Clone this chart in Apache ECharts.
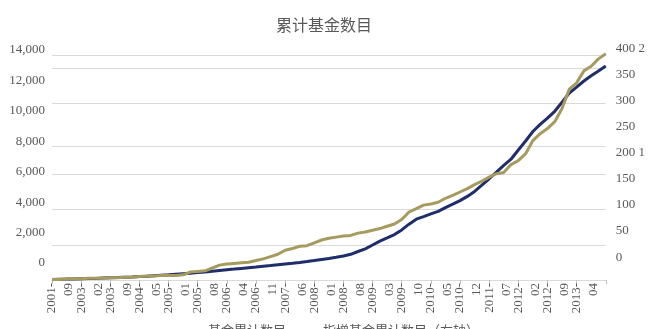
<!DOCTYPE html>
<html>
<head>
  <meta charset="utf-8">
  <title>累计基金数目</title>
  <style>
    html, body { margin: 0; padding: 0; background: #fff; }
    #map { width: 648px; height: 329px; }
  </style>
</head>
<body>
  <div id="map"></div>
  <script src="https://cdn.jsdelivr.net/npm/echarts/dist/echarts.min.js"></script>
  <script>
    // 数据
    var dates = [
      '2001-09', '2001-12', '2002-04', '2002-08',
      '2003-02', '2003-04', '2003-06', '2003-07',
      '2003-09', '2003-11', '2004-01', '2004-03',
      '2004-05', '2004-07', '2004-09', '2004-11',
      '2005-01', '2005-03', '2005-05', '2005-06',
      '2005-08', '2005-10', '2005-12', '2006-02',
      '2006-04', '2006-06', '2006-07', '2006-09',
      '2006-11', '2007-01', '2007-02', '2007-04',
      '2007-06', '2007-08', '2007-09', '2007-11',
      '2008-01', '2008-03', '2008-04', '2008-06',
      '2008-08', '2008-10', '2008-11', '2009-01',
      '2009-03', '2009-05', '2009-06', '2009-08',
      '2009-10', '2009-12', '2010-01', '2010-03',
      '2010-05', '2010-07', '2010-08', '2010-10',
      '2010-12', '2011-02', '2011-03', '2011-05',
      '2011-07', '2011-09', '2011-10', '2011-12',
      '2012-02', '2012-04', '2012-05', '2012-07',
      '2012-09', '2012-11', '2012-12', '2013-02',
      '2013-04', '2013-06', '2013-07', '2013-09', '2013-11'
    ];
    // 基金累计数目（左轴）
    var fundCount = [
      30, 44, 56, 69, 81, 88, 100, 119, 138, 156,
      175, 194, 219, 238, 269, 300, 331, 363, 394, 425,
      463, 506, 550, 594, 638, 681, 725, 769, 813, 863,
      906, 956, 1000, 1044, 1094, 1150, 1213, 1281, 1344, 1419,
      1500, 1606, 1781, 1950, 2188, 2431, 2631, 2838, 3131, 3488,
      3800, 3963, 4131, 4288, 4519, 4738, 4963, 5225, 5538, 5931,
      6328, 6744, 7163, 7550, 8125, 8688, 9281, 9725, 10113, 10544,
      11113, 11688, 12056, 12438, 12763, 13069, 13375
    ];
    // 指增基金累计数目（右轴）
    var enhancedCount = [
      1, 1, 2, 2, 2, 3, 3, 3, 4, 4,
      5, 5, 6, 7, 7, 8, 8, 8, 9, 14,
      15, 16, 21, 26, 28, 29, 30, 31, 34, 37,
      41, 45, 52, 55, 59, 60, 65, 70, 73, 75,
      77, 78, 82, 84, 87, 90, 94, 98, 106, 119,
      125, 131, 133, 136, 143, 148, 154, 160, 167, 173,
      180, 186, 188, 202, 209, 221, 244, 256, 265, 277,
      300, 334, 345, 366, 374, 387, 396
    ];
    // 网格线与刻度标签
    var gridValues = [2190, 4420, 6610, 8330, 11040, 13230, 14060];
    var leftTicks = [0, 2000, 4000, 6000, 8000, 10000, 12000, 14000];
    var leftLabels = ['0', '2,000', '4,000', '6,000', '8,000', '10,000', '12,000', '14,000'];
    var rightTicks = [0, 50, 100, 150, 200, 250, 300, 350, 400];
    var rightLabels = ['0', '50', '100', '150', '200 1', '250', '300', '350', '400 2'];

    var labelFont = {
      color: '#595959',
      fontSize: 13,
      fontFamily: 'Liberation Serif'
    };

    var myChart = echarts.init(document.getElementById('map'));
    var option = {
      animation: false,
      title: {
        text: '累计基金数目',
        left: 'center',
        top: 12,
        textStyle: {
          color: '#595959',
          fontSize: 16,
          fontWeight: 'normal',
          fontFamily: 'Noto Sans CJK SC'
        }
      },
      legend: {
        left: 166,
        top: 319,
        icon: 'rect',
        itemWidth: 32,
        itemHeight: 1,
        itemGap: 0,
        textStyle: {
          color: '#595959',
          fontSize: 13,
          fontFamily: 'Noto Sans CJK SC'
        },
        data: ['基金累计数目', '指增基金累计数目（右轴）']
      },
      grid: {
        left: 52,
        right: 38,
        top: 40,
        bottom: 49
      },
      xAxis: {
        type: 'category',
        data: dates,
        boundaryGap: false,
        axisLine: { lineStyle: { color: '#d9d9d9' } },
        axisTick: {
          interval: 3,
          length: 4,
          lineStyle: { color: '#bfbfbf' }
        },
        axisLabel: Object.assign({
          interval: 0,
          rotate: 90,
          margin: 3,
          lineHeight: 17,
          formatter: function (v, i) {
            // 每隔4个日期显示一个标签，最后一个日期不显示
            if (i % 4 !== 0 || i === dates.length - 1) {
              return '';
            }
            return '\n' + v.replace('-', '-\n');
          }
        }, labelFont)
      },
      yAxis: [
        {
          // 左轴数据
          type: 'value',
          position: 'left',
          min: 0,
          max: 15000,
          axisLabel: { show: false },
          axisLine: { show: false },
          axisTick: { show: false, customValues: gridValues },
          splitLine: { show: true, lineStyle: { color: '#d9d9d9', width: 1 } }
        },
        {
          // 右轴数据
          type: 'value',
          position: 'right',
          min: 0,
          max: 420,
          axisLabel: { show: false },
          axisLine: { show: false },
          axisTick: { show: false },
          splitLine: { show: false }
        },
        {
          // 左轴标签
          type: 'value',
          position: 'left',
          min: -1117,
          max: 14657,
          axisLine: { show: false },
          axisTick: { show: false },
          splitLine: { show: false },
          axisLabel: Object.assign({
            margin: 7,
            customValues: leftTicks,
            formatter: function (v) {
              return leftLabels[leftTicks.indexOf(v)];
            }
          }, labelFont)
        },
        {
          // 右轴标签
          type: 'value',
          position: 'right',
          min: -44,
          max: 417,
          axisLine: { show: false },
          axisTick: { show: false },
          splitLine: { show: false },
          axisLabel: Object.assign({
            margin: 10,
            customValues: rightTicks,
            formatter: function (v) {
              return rightLabels[rightTicks.indexOf(v)];
            }
          }, labelFont)
        }
      ],
      series: [
        {
          name: '基金累计数目',
          type: 'line',
          yAxisIndex: 0,
          symbol: 'none',
          data: fundCount,
          lineStyle: { color: '#1f2d6b', width: 3 },
          itemStyle: { color: '#1f2d6b' }
        },
        {
          name: '指增基金累计数目（右轴）',
          type: 'line',
          yAxisIndex: 1,
          symbol: 'none',
          data: enhancedCount,
          lineStyle: { color: '#a69b5f', width: 3 },
          itemStyle: { color: '#a69b5f' }
        }
      ]
    };
    myChart.setOption(option);
  </script>
</body>
</html>
